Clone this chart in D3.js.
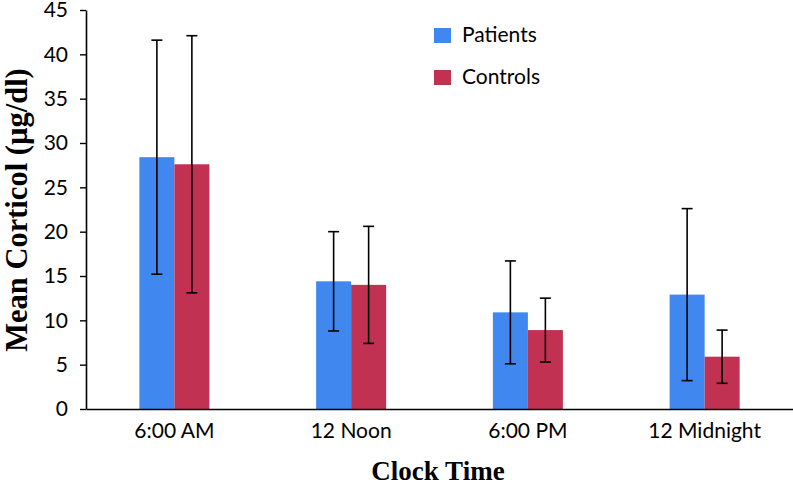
<!DOCTYPE html>
<html>
<head>
<meta charset="utf-8">
<script src="https://cdn.jsdelivr.net/npm/d3@7"></script>
<style>
  html, body { margin: 0; padding: 0; background: #fff; }
  svg { display: block; }
</style>
</head>
<body>
<svg id="chart" width="793" height="486"></svg>
<script>
const categories = ["6:00 AM", "12 Noon", "6:00 PM", "12 Midnight"];
const seriesNames = ["Patients", "Controls"];
const patients = [28.4, 14.4, 10.9, 12.9];
const controls = [27.6, 14.0, 8.9, 5.9];
const patientsSD = [13.2, 5.6, 5.8, 9.7];
const controlsSD = [14.5, 6.6, 3.6, 3.0];
const yTicks = [0, 5, 10, 15, 20, 25, 30, 35, 40, 45];

const colors = { Patients: "#4087ef", Controls: "#c03152" };
const tickFont = "Lato, 'Open Sans', sans-serif";
const titleFont = "'Liberation Serif', 'Times New Roman', serif";

const svg = d3.select("#chart");
const mLeft = 86, mRight = 793, mTop = 10, mBottom = 409;

const x = d3.scaleBand().domain(categories).range([mLeft, mRight]).padding(0);
const barW = 35;
const xSub = d3.scaleBand().domain(seriesNames)
  .range([x.bandwidth() / 2 - barW, x.bandwidth() / 2 + barW]).padding(0);
const y = d3.scaleLinear().domain([0, 45]).range([mBottom, mTop]);

const rows = categories.map((c, i) => ({
  cat: c,
  vals: [
    { name: "Patients", v: patients[i], sd: patientsSD[i] },
    { name: "Controls", v: controls[i], sd: controlsSD[i] }
  ]
}));

// bars
const g = svg.append("g");
const groups = g.selectAll("g.grp").data(rows).join("g")
  .attr("class", "grp")
  .attr("transform", d => `translate(${x(d.cat)},0)`);

groups.selectAll("rect").data(d => d.vals).join("rect")
  .attr("x", d => xSub(d.name))
  .attr("width", xSub.bandwidth())
  .attr("y", d => y(d.v))
  .attr("height", d => y(0) - y(d.v))
  .attr("fill", d => colors[d.name]);

// error bars
const capW = 11;
const eb = groups.selectAll("g.eb").data(d => d.vals).join("g").attr("class", "eb");
const cx = d => xSub(d.name) + xSub.bandwidth() / 2;
eb.append("line")
  .attr("x1", cx).attr("x2", cx)
  .attr("y1", d => y(d.v + d.sd))
  .attr("y2", d => y(d.v - d.sd))
  .attr("stroke", "#000").attr("stroke-width", 1.6);
eb.append("line")
  .attr("x1", d => cx(d) - capW / 2)
  .attr("x2", d => cx(d) + capW / 2)
  .attr("y1", d => y(d.v + d.sd))
  .attr("y2", d => y(d.v + d.sd))
  .attr("stroke", "#000").attr("stroke-width", 1.6);
eb.append("line")
  .attr("x1", d => cx(d) - capW / 2)
  .attr("x2", d => cx(d) + capW / 2)
  .attr("y1", d => y(d.v - d.sd))
  .attr("y2", d => y(d.v - d.sd))
  .attr("stroke", "#000").attr("stroke-width", 1.6);

// y axis
const yAxis = svg.append("g")
  .attr("transform", `translate(${mLeft},0)`)
  .call(d3.axisLeft(y).tickValues(yTicks).tickSize(6).tickPadding(12).tickSizeOuter(0));
yAxis.select(".domain").attr("stroke", "#000").attr("stroke-width", 1.6);
yAxis.selectAll(".tick line").attr("stroke", "#000").attr("stroke-width", 1.4);
yAxis.selectAll(".tick text")
  .attr("font-family", tickFont).attr("font-size", 21).attr("fill", "#000");

// x axis
const xAxis = svg.append("g")
  .attr("transform", `translate(0,${mBottom})`)
  .call(d3.axisBottom(x).tickSize(0).tickPadding(14).tickSizeOuter(0));
xAxis.select(".domain").attr("stroke", "#000").attr("stroke-width", 1.6);
xAxis.selectAll(".tick text")
  .attr("font-family", tickFont).attr("font-size", 21).attr("fill", "#000");

// axis titles
svg.append("text")
  .attr("x", 438).attr("y", 480)
  .attr("text-anchor", "middle")
  .attr("font-family", titleFont).attr("font-weight", "bold").attr("font-size", 27)
  .text("Clock Time");

svg.append("text")
  .attr("transform", `translate(27,210) rotate(-90)`)
  .attr("text-anchor", "middle")
  .attr("font-family", titleFont).attr("font-weight", "bold").attr("font-size", 30.5)
  .text("Mean Corticol (µg/dl)");

// legend
const legend = svg.append("g");
const legendItems = legend.selectAll("g").data(seriesNames).join("g")
  .attr("transform", (d, i) => `translate(434,${28 + i * 42})`);
legendItems.append("rect")
  .attr("width", 17).attr("height", 15)
  .attr("fill", d => colors[d]);
legendItems.append("text")
  .attr("x", 28).attr("y", 14)
  .attr("font-family", tickFont).attr("font-size", 21).attr("fill", "#000")
  .text(d => d);
</script>
</body>
</html>
